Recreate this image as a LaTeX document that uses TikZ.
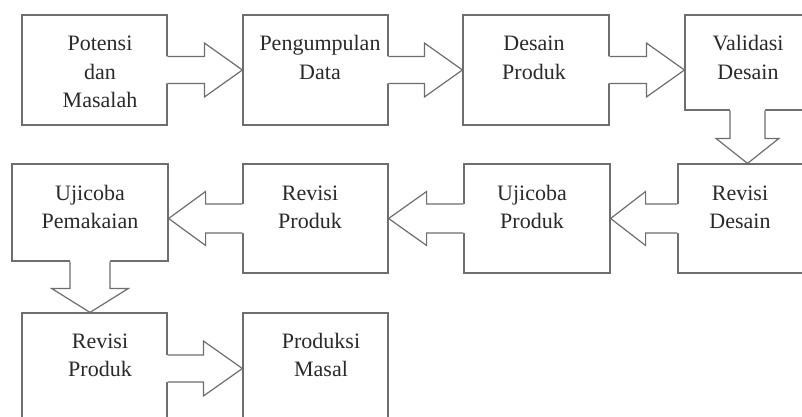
\documentclass[tikz,border=0pt]{standalone}
\usepackage{fontspec}
\setmainfont{Liberation Serif}
\usetikzlibrary{calc}
\definecolor{edgegray}{HTML}{6E6E6E}
\definecolor{txtgray}{HTML}{2A2A2A}
\tikzset{
  box/.style={draw=edgegray, line width=1.2pt, rectangle, inner sep=0pt, fill=white},
  lbl/.style={font=\fontsize{22}{28.5}\selectfont, text=txtgray, align=center, inner sep=0pt, anchor=north},
  arrline/.style={draw=edgegray, line width=1.2pt, line join=miter},
}
% horizontal block arrow: #1 start, #2 tip, #3 shaft half, #4 head half, #5 signed head length
\newcommand{\hblk}[5]{%
  \fill[white] ($(#1)+({-2*sign(#5)},-#3)$) -- ($(#2)+(-#5,-#3)$) -- ($(#2)+(-#5,-#4)$) -- (#2)
     -- ($(#2)+(-#5,#4)$) -- ($(#2)+(-#5,#3)$) -- ($(#1)+({-2*sign(#5)},#3)$) -- cycle;
  \draw[arrline] ($(#1)+(0,-#3)$) -- ($(#2)+(-#5,-#3)$) -- ($(#2)+(-#5,-#4)$) -- (#2)
     -- ($(#2)+(-#5,#4)$) -- ($(#2)+(-#5,#3)$) -- ($(#1)+(0,#3)$);
}
% downward block arrow
\newcommand{\vblk}[5]{%
  \fill[white] ($(#1)+(-#3,-2)$) -- ($(#2)+(-#3,-#5)$) -- ($(#2)+(-#4,-#5)$) -- (#2)
     -- ($(#2)+(#4,-#5)$) -- ($(#2)+(#3,-#5)$) -- ($(#1)+(#3,-2)$) -- cycle;
  \draw[arrline] ($(#1)+(-#3,0)$) -- ($(#2)+(-#3,-#5)$) -- ($(#2)+(-#4,-#5)$) -- (#2)
     -- ($(#2)+(#4,-#5)$) -- ($(#2)+(#3,-#5)$) -- ($(#1)+(#3,0)$);
}
\begin{document}
\begin{tikzpicture}[x=1pt,y=-1pt]
\useasboundingbox (0,0) rectangle (802,417);
\clip (0,0) rectangle (802,417);
\fill[white] (0,0) rectangle (802,417);
% boxes
\node[box, minimum width=145pt, minimum height=110pt] (b1) at (94.5,70) {};
\node[box, minimum width=145pt, minimum height=110pt] (b2) at (315.5,70) {};
\node[box, minimum width=146pt, minimum height=110pt] (b3) at (536,70) {};
\node[box, minimum width=125pt, minimum height=95pt] (b4) at (747.5,62.5) {};
\node[box, minimum width=156pt, minimum height=97pt] (b5) at (90,212.5) {};
\node[box, minimum width=145pt, minimum height=109pt] (b6) at (315.5,218.5) {};
\node[box, minimum width=146pt, minimum height=109pt] (b7) at (537,218.5) {};
\node[box, minimum width=128pt, minimum height=109pt] (b8) at (742,218.5) {};
\node[box, minimum width=145pt, minimum height=111pt] (b9) at (94.5,368.5) {};
\node[box, minimum width=145pt, minimum height=111pt] (b10) at (315.5,368.5) {};
% arrows
\hblk{b1.east}{b2.west}{13.5}{27}{38}
\hblk{b2.east}{b3.west}{13.5}{27}{38}
\hblk{b3.east}{b4.west |- b3.east}{13.5}{27}{38}
\vblk{b4.south}{b8.north -| b4.south}{17.5}{31.5}{25}
\hblk{b8.west}{b7.east}{14.5}{27}{-35}
\hblk{b7.west}{b6.east}{14.5}{27}{-38}
\hblk{b6.west}{b5.east |- b6.west}{14.5}{27}{-37}
\vblk{b5.south}{b9.north -| b5.south}{20}{38.5}{24}
\hblk{b9.east}{b10.west}{13.5}{27.5}{39}
% labels
\node[lbl] (t1) at (100,30.55) {\strut Potensi\\dan\\Masalah};
\node[lbl] (t2) at (320,30.55) {\strut Pengumpulan\\Data};
\node[lbl] (t3) at (534,30.55) {\strut Desain\\Produk};
\node[lbl] (t4) at (748,30.55) {\strut Validasi\\Desain};
\node[lbl] (t5) at (90,180.05) {\strut Ujicoba\\Pemakaian};
\node[lbl] (t6) at (310,180.05) {\strut Revisi\\Produk};
\node[lbl] (t7) at (532,180.05) {\strut Ujicoba\\Produk};
\node[lbl] (t8) at (740,180.05) {\strut Revisi\\Desain};
\node[lbl] (t9) at (100,328.05) {\strut Revisi\\Produk};
\node[lbl] (t10) at (321,328.05) {\strut Produksi\\Masal};
\end{tikzpicture}
\end{document}
